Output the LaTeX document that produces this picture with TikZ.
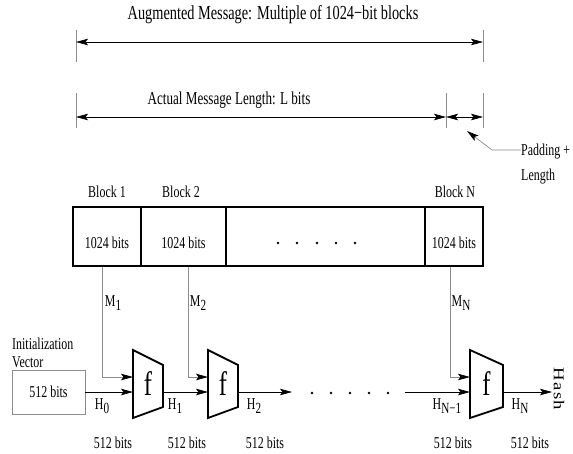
\documentclass[tikz,border=0pt]{standalone}
\usepackage{fontspec}
\setmainfont{Liberation Serif}[FakeStretch=0.72]
\newfontfamily\hashfont{Liberation Serif}[FakeStretch=1.25,LetterSpace=8]
\usetikzlibrary{arrows.meta}
\definecolor{wiregray}{HTML}{8C8C8C}
\newcommand\lowidx[1]{\raisebox{-0.6ex}{\fontsize{15.5}{16}\selectfont #1}}

\begin{document}
\begin{tikzpicture}[x=1pt,y=-1pt,font=\fontsize{16.6}{18}\selectfont,
  dimline/.style={{Stealth[length=12pt,width=6.5pt,inset=2.5pt]}-{Stealth[length=12pt,width=6.5pt,inset=2.5pt]},line width=0.6pt},
  tickline/.style={wiregray,line width=0.7pt},
  feedline/.style={wiregray,line width=0.7pt,-{Stealth[length=12pt,width=6.5pt,inset=2.5pt,color=black]}},
  flowline/.style={line width=0.6pt,-{Stealth[length=12pt,width=6.5pt,inset=2.5pt]}},
  blockcell/.style={draw,line width=1.6pt,minimum height=59pt,inner sep=0pt},
  fbox/.style={line width=1.8pt,line join=miter}]
  \useasboundingbox (0,0) rectangle (573,453);

  % message length dimensions
  \node (augtext) at (273,15) {\fontsize{19.9}{21}\selectfont Augmented Message: Multiple of 1024−bit blocks};
  \node (acttext) at (229,100) {\fontsize{18.2}{20}\selectfont Actual Message Length: L bits};
  \coordinate (augL) at (76,42);
  \coordinate (augR) at (483,42);
  \coordinate (actL) at (76,117);
  \coordinate (actM) at (446,117);
  \coordinate (actR) at (483,117);
  \foreach \x in {76,483}
    \draw[tickline] (\x,30) -- (\x,62);
  \foreach \x in {76,446,483}
    \draw[tickline] (\x,93) -- (\x,128);
  \draw[dimline] (augL) -- (augR);
  \draw[dimline] (actL) -- (actM);
  \draw[dimline] (actM) -- (actR);

  % padding note
  \node[align=left,anchor=west,inner sep=0pt,font=\fontsize{16.6}{25}\selectfont] (padtext) at (521,164.5) {Padding +\\Length};
  \coordinate (padtip) at (467,131);
  \draw[wiregray,line width=0.7pt,-{Stealth[length=12pt,width=6.5pt,inset=2.5pt,color=black]}] (padtext.west |- 0,150) -- (492,150) -- (padtip);

  % message blocks
  \node[blockcell,minimum width=68pt] (blk1) at (107,236.5) {};
  \node[blockcell,minimum width=85pt] (blk2) at (183.5,236.5) {};
  \node[blockcell,minimum width=199pt] (blkdots) at (325.5,236.5) {};
  \node[blockcell,minimum width=58pt] (blkN) at (454,236.5) {};
  \node at (107,243) {1024 bits};
  \node at (183.5,243) {1024 bits};
  \node at (454,243) {1024 bits};
  \foreach \x in {278,297,317,336,355}
    \fill (\x,243) circle[radius=1.3pt];
  \node (lab1) at (107,192) {Block 1};
  \node (lab2) at (181,192) {Block 2};
  \node (labN) at (455,192) {Block N};

  % compression function boxes
  \foreach \n/\x/\w in {1/133/30,2/208/30,3/470/33} {
    \draw[fbox] (\x,350) -- (\x+\w,365) -- (\x+\w,407) -- (\x,418) -- cycle;
    \node[font=\fontsize{34}{36}\selectfont] (f\n) at (\x+\w/2,384) {f};
    \coordinate (f\n in1) at (\x,377);
    \coordinate (f\n in2) at (\x,392);
    \coordinate (f\n out) at (\x+\w,392);
  }

  % initialization vector
  \node[draw=wiregray,line width=0.7pt,minimum width=73pt,minimum height=44pt] (iv) at (48.5,392) {512 bits};
  \node[align=left,anchor=north west,inner sep=0pt] (ivtext) at (12,338) {Initialization\\Vector};

  % message inputs
  \draw[feedline] (blk1.south -| 102,0) |- (f1in1);
  \draw[feedline] (blk2.south -| 188,0) |- (f2in1);
  \draw[feedline] (blkN.south -| 450,0) |- (f3in1);
  \node (m1) at (113,303) {M\lowidx{1}};
  \node (m2) at (198,303) {M\lowidx{2}};
  \node (mN) at (461,303) {M\lowidx{N}};

  % chaining values
  \coordinate (h2end) at (292,392);
  \coordinate (hnstart) at (405,392);
  \coordinate (hashend) at (552,392);
  \draw[flowline] (iv.east) -- (f1in2);
  \draw[flowline] (f1out) -- (f2in2);
  \draw[flowline] (f2out) -- (h2end);
  \draw[flowline] (hnstart) -- (f3in2);
  \draw[flowline] (f3out) -- (hashend);
  \foreach \x in {312,331,350,369,388}
    \fill (\x,393) circle[radius=1.3pt];
  \node[rotate=-90,font=\hashfont\fontsize{15}{16}\selectfont] (hash) at (559,389) {Hash};

  \node (h0) at (102,406) {H\lowidx{0}};
  \node (h1) at (175,406) {H\lowidx{1}};
  \node (h2) at (254,406) {H\lowidx{2}};
  \node (hn1) at (447,406) {H\lowidx{N−1}};
  \node (hn) at (520,406) {H\lowidx{N}};
  \foreach \x in {113,187,265,453,530}
    \node at (\x,443) {512 bits};
\end{tikzpicture}
\end{document}
